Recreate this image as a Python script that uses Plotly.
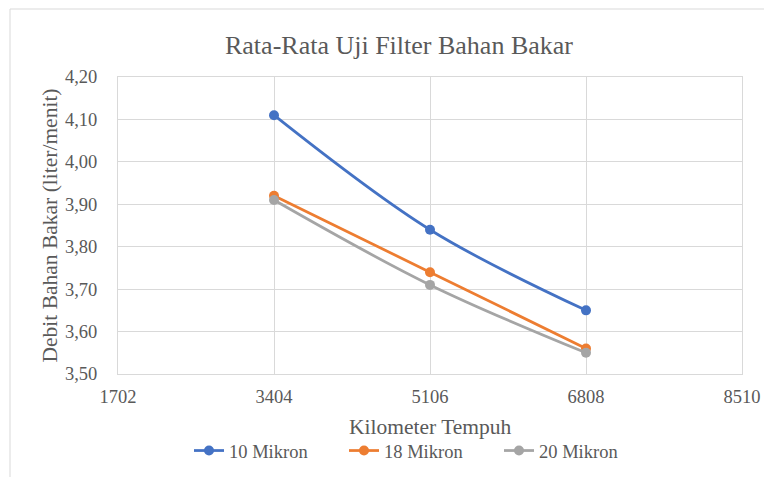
import plotly.graph_objects as go

km = [3404, 5106, 6808]
mikron10 = [4.11, 3.84, 3.65]
mikron18 = [3.92, 3.74, 3.56]
mikron20 = [3.91, 3.71, 3.55]
series_names = ["10 Mikron", "18 Mikron", "20 Mikron"]
colors = ["#4472C4", "#ED7D31", "#A5A5A5"]
x_ticks = [1702, 3404, 5106, 6808, 8510]
y_ticks = [3.5, 3.6, 3.7, 3.8, 3.9, 4.0, 4.1, 4.2]
x_title = "Kilometer Tempuh"
y_title = "Debit Bahan Bakar (liter/menit)"
chart_title = "Rata-Rata Uji Filter Bahan Bakar"

FONT = "Liberation Serif, Times New Roman, serif"
TXT = "#595959"

fig = go.Figure()
for name, vals, c in zip(series_names, [mikron10, mikron18, mikron20], colors):
    fig.add_trace(go.Scatter(
        x=km, y=vals, name=name, mode="lines+markers",
        line=dict(color=c, width=2.75, shape="spline", smoothing=1.0),
        marker=dict(color=c, size=10),
    ))

# page body has an 8px margin, so figure coords = page coords - 8
W, H = 764, 469
L, T, R, B = 110, 69, 30, 103
pw, ph = W - L - R, H - T - B

fig.update_layout(
    width=W, height=H,
    margin=dict(l=L, r=R, t=T, b=B),
    paper_bgcolor="white", plot_bgcolor="white",
    separators=",.",
    font=dict(family=FONT, color=TXT, size=18),
    title=dict(text=chart_title, xref="paper", x=(391 - L) / pw,
               xanchor="center", y=1 - 37 / H, yanchor="middle",
               font=dict(family=FONT, size=26, color=TXT)),
    xaxis=dict(range=[1702, 8510], tickvals=x_ticks, ticktext=[str(v) for v in x_ticks],
               showgrid=True, gridcolor="#d9d9d9", gridwidth=1,
               showline=True, linecolor="#d9d9d9", mirror=True, zeroline=False,
               ticks="", ticklabelstandoff=6, automargin=False,
               tickfont=dict(family=FONT, size=18.5, color=TXT)),
    yaxis=dict(range=[3.5, 4.2], tickvals=y_ticks, tickformat=".2f",
               showgrid=True, gridcolor="#d9d9d9", gridwidth=1,
               showline=True, linecolor="#d9d9d9", mirror=True, zeroline=False,
               ticks="", ticklabelstandoff=16, automargin=False,
               tickfont=dict(family=FONT, size=18.5, color=TXT),
               title=dict(text=y_title,
                          font=dict(family=FONT, size=21.5, color=TXT), standoff=1)),
    legend=dict(orientation="h", x=(181 - L) / pw, xanchor="left",
                yref="container", y=1 - 443 / H, yanchor="middle",
                entrywidth=110, entrywidthmode="pixels",
                font=dict(family=FONT, size=18.5, color=TXT), tracegroupgap=0),
    annotations=[dict(text=x_title, xref="paper", yref="paper", x=0.5, xanchor="center",
                      y=-(419 - (H - B)) / ph, yanchor="middle", showarrow=False,
                      font=dict(family=FONT, size=21.5, color=TXT))],
    shapes=[dict(type="rect", xref="paper", yref="paper",
                 x0=(2 - L) / pw, x1=(W + 5 - L) / pw,
                 y0=-(H + 5 - (H - B)) / ph, y1=1 + (T - 1) / ph,
                 line=dict(color="#d9d9d9", width=1), fillcolor="rgba(0,0,0,0)", layer="below")],
)

fig.write_html("out.html")
